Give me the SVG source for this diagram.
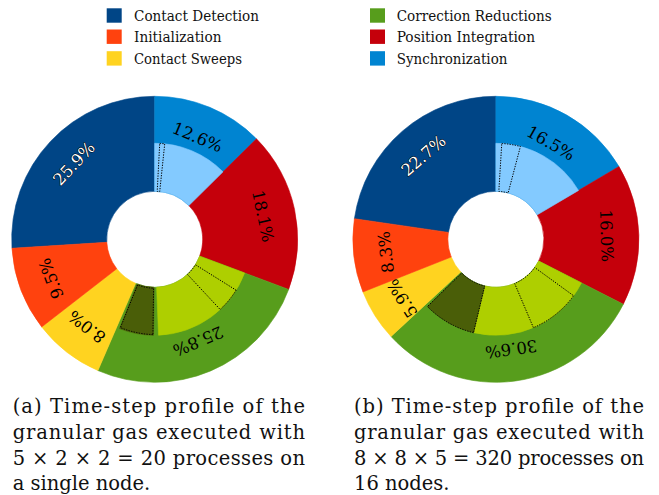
<svg xmlns="http://www.w3.org/2000/svg" width="659" height="495" viewBox="0 0 659 495">
<style>
.cd{fill:#004586;stroke:#004586}
.init{fill:#ff420e;stroke:#ff420e}
.sw{fill:#ffd320;stroke:#ffd320}
.corr{fill:#579d1c;stroke:#579d1c}
.pos{fill:#c5000b;stroke:#c5000b}
.sync{fill:#0084d1;stroke:#0084d1}
.lb{fill:#83caff;stroke:#83caff}
.lg{fill:#aecf00;stroke:#aecf00}
.dol{fill:#4a5e08;stroke:#4a5e08}
path{stroke-width:0.6;stroke-linejoin:round}
.dot{fill:none;stroke:#000;stroke-width:1;stroke-dasharray:1.3 1.3}
text{font-family:"DejaVu Serif",serif}
.lab{font-size:16.5px;text-anchor:middle;dominant-baseline:central;fill:#000}
.wl{fill:#fff;stroke:#000;stroke-width:1;paint-order:stroke;stroke-linejoin:round}
.leg{font-size:14px;fill:#111}
.cap{font-size:19.5px;fill:#111}
</style>
<rect width="659" height="495" fill="#fff"/>
<g id="legend">
<g id="leg-cd"><rect x="106.7" y="8.3" width="15" height="14.4" fill="#004586"/><text class="leg" x="134" y="20.7" textLength="125" lengthAdjust="spacingAndGlyphs">Contact Detection</text></g>
<g id="leg-init"><rect x="106.7" y="29.5" width="15" height="14.4" fill="#ff420e"/><text class="leg" x="134" y="42.3" textLength="87.5" lengthAdjust="spacingAndGlyphs">Initialization</text></g>
<g id="leg-sw"><rect x="106.7" y="51.2" width="15" height="14.4" fill="#ffd320"/><text class="leg" x="134" y="63.9" textLength="108" lengthAdjust="spacingAndGlyphs">Contact Sweeps</text></g>
<g id="leg-corr"><rect x="370" y="8.3" width="15" height="14.4" fill="#579d1c"/><text class="leg" x="396.7" y="20.7" textLength="155" lengthAdjust="spacingAndGlyphs">Correction Reductions</text></g>
<g id="leg-pos"><rect x="370" y="29.5" width="15" height="14.4" fill="#c5000b"/><text class="leg" x="396.7" y="42.3" textLength="138.3" lengthAdjust="spacingAndGlyphs">Position Integration</text></g>
<g id="leg-sync"><rect x="370" y="51.2" width="15" height="14.4" fill="#0084d1"/><text class="leg" x="396.7" y="63.9" textLength="110.7" lengthAdjust="spacingAndGlyphs">Synchronization</text></g>
</g>
<g id="chart-a">
<path class="cd" d="M 11.98,248.28 A 143 143 0 0 1 154.7,96.3 L 154.7,191.3 A 48 48 0 0 0 106.79,242.31 Z"/>
<path class="sync" d="M 154.7,96.3 A 143 143 0 0 1 256.45,138.82 L 188.85,205.57 A 48 48 0 0 0 154.7,191.3 Z"/>
<path class="pos" d="M 256.45,138.82 A 143 143 0 0 1 288.63,289.43 L 199.66,256.13 A 48 48 0 0 0 188.85,205.57 Z"/>
<path class="corr" d="M 288.63,289.43 A 143 143 0 0 1 97.91,370.54 L 135.64,283.35 A 48 48 0 0 0 199.66,256.13 Z"/>
<path class="sw" d="M 97.91,370.54 A 143 143 0 0 1 41.71,326.95 L 116.77,268.72 A 48 48 0 0 0 135.64,283.35 Z"/>
<path class="init" d="M 41.71,326.95 A 143 143 0 0 1 11.98,248.28 L 106.79,242.31 A 48 48 0 0 0 116.77,268.72 Z"/>
<path class="lb" d="M 154.7,143.3 A 96 96 0 0 1 223.01,171.84 L 188.85,205.57 A 48 48 0 0 0 154.7,191.3 Z"/>
<path class="lg" d="M 244.61,272.95 A 96 96 0 0 1 158.55,335.22 L 156.63,287.26 A 48 48 0 0 0 199.66,256.13 Z"/>
<path class="dol" d="M 153.53,335.29 A 96 96 0 0 1 119.52,328.62 L 137.11,283.96 A 48 48 0 0 0 154.11,287.30 Z"/>
<path class="dot" d="M 159.72,143.43 A 96 96 0 0 1 164.73,143.83 L 159.72,191.56 A 48 48 0 0 0 157.21,191.37 Z"/>
<path class="dot" d="M 236.11,290.17 A 96 96 0 0 1 220.17,309.51 L 187.44,274.40 A 48 48 0 0 0 195.41,264.74 Z"/>
<path class="dot" d="M 152.9,334.6 A 95 95 0 0 1 120.4,327.6 L 137.6,284.9 A 49 49 0 0 0 153.6,288.2 Z"/>
<text class="lab" x="154.7" y="128.8" transform="rotate(22.68 154.7 239.3)">12.6%</text>
<text class="lab" x="154.7" y="128.8" transform="rotate(77.94 154.7 239.3)">18.1%</text>
<text class="lab" x="154.7" y="128.8" transform="rotate(156.96 154.7 239.3)">25.8%</text>
<text class="lab" x="154.7" y="128.8" transform="rotate(217.8 154.7 239.3)">8.0%</text>
<text class="lab" x="154.7" y="128.8" transform="rotate(249.3 154.7 239.3)">9.5%</text>
<text class="lab wl" x="154.7" y="128.8" transform="rotate(313.2 154.7 239.3)">25.9%</text>
</g>
<g id="chart-b">
<path class="cd" d="M 354.39,218.71 A 143 143 0 0 1 495.9,96.3 L 495.9,191.3 A 48 48 0 0 0 448.40,232.39 Z"/>
<path class="sync" d="M 495.9,96.3 A 143 143 0 0 1 618.99,166.50 L 537.22,214.86 A 48 48 0 0 0 495.9,191.3 Z"/>
<path class="pos" d="M 618.99,166.50 A 143 143 0 0 1 623.31,304.22 L 538.67,261.09 A 48 48 0 0 0 537.22,214.86 Z"/>
<path class="corr" d="M 623.31,304.22 A 143 143 0 0 1 391.04,336.53 L 460.70,271.94 A 48 48 0 0 0 538.67,261.09 Z"/>
<path class="sw" d="M 391.04,336.53 A 143 143 0 0 1 362.94,291.94 L 451.27,256.97 A 48 48 0 0 0 460.70,271.94 Z"/>
<path class="init" d="M 362.94,291.94 A 143 143 0 0 1 354.39,218.71 L 448.40,232.39 A 48 48 0 0 0 451.27,256.97 Z"/>
<path class="lb" d="M 495.9,143.3 A 96 96 0 0 1 578.54,190.43 L 537.22,214.86 A 48 48 0 0 0 495.9,191.3 Z"/>
<path class="lg" d="M 581.44,282.88 A 96 96 0 0 1 473.49,332.65 L 484.69,285.97 A 48 48 0 0 0 538.67,261.09 Z"/>
<path class="dol" d="M 473.49,332.65 A 96 96 0 0 1 427.43,306.59 L 461.66,272.94 A 48 48 0 0 0 484.69,285.97 Z"/>
<path class="dot" d="M 501.76,143.48 A 96 96 0 0 1 520.42,146.49 L 508.16,192.89 A 48 48 0 0 0 498.83,191.39 Z"/>
<path class="dot" d="M 573.57,295.73 A 96 96 0 0 1 533.41,327.67 L 514.66,283.48 A 48 48 0 0 0 534.73,267.51 Z"/>
<path class="dot" d="M 473.49,332.65 A 96 96 0 0 1 427.43,306.59 L 461.66,272.94 A 48 48 0 0 0 484.69,285.97 Z"/>
<text class="lab" x="495.9" y="128.8" transform="rotate(29.7 495.9 239.3)">16.5%</text>
<text class="lab" x="495.9" y="128.8" transform="rotate(88.2 495.9 239.3)">16.0%</text>
<text class="lab" x="495.9" y="128.8" transform="rotate(172.08 495.9 239.3)">30.6%</text>
<text class="lab" x="495.9" y="128.8" transform="rotate(237.78 495.9 239.3)">5.9%</text>
<text class="lab" x="495.9" y="128.8" transform="rotate(263.34 495.9 239.3)">8.3%</text>
<text class="lab wl" x="495.9" y="128.8" transform="rotate(319.14 495.9 239.3)">22.7%</text>
</g>
<g id="caption-a">
<text class="cap" x="12.7" y="412.7" textLength="292.3" lengthAdjust="spacing">(a) Time-step profile of the</text>
<text class="cap" x="12.7" y="439" textLength="292.3" lengthAdjust="spacing">granular gas executed with</text>
<text class="cap" x="12.7" y="464.8" textLength="292.3" lengthAdjust="spacing">5 × 2 × 2 = 20 processes on</text>
<text class="cap" x="12.7" y="490">a single node.</text>
</g>
<g id="caption-b">
<text class="cap" x="354" y="412.7" textLength="290" lengthAdjust="spacing">(b) Time-step profile of the</text>
<text class="cap" x="354" y="439" textLength="290" lengthAdjust="spacing">granular gas executed with</text>
<text class="cap" x="354" y="464.8" textLength="290" lengthAdjust="spacing">8 × 8 × 5 = 320 processes on</text>
<text class="cap" x="354" y="490">16 nodes.</text>
</g>
</svg>
